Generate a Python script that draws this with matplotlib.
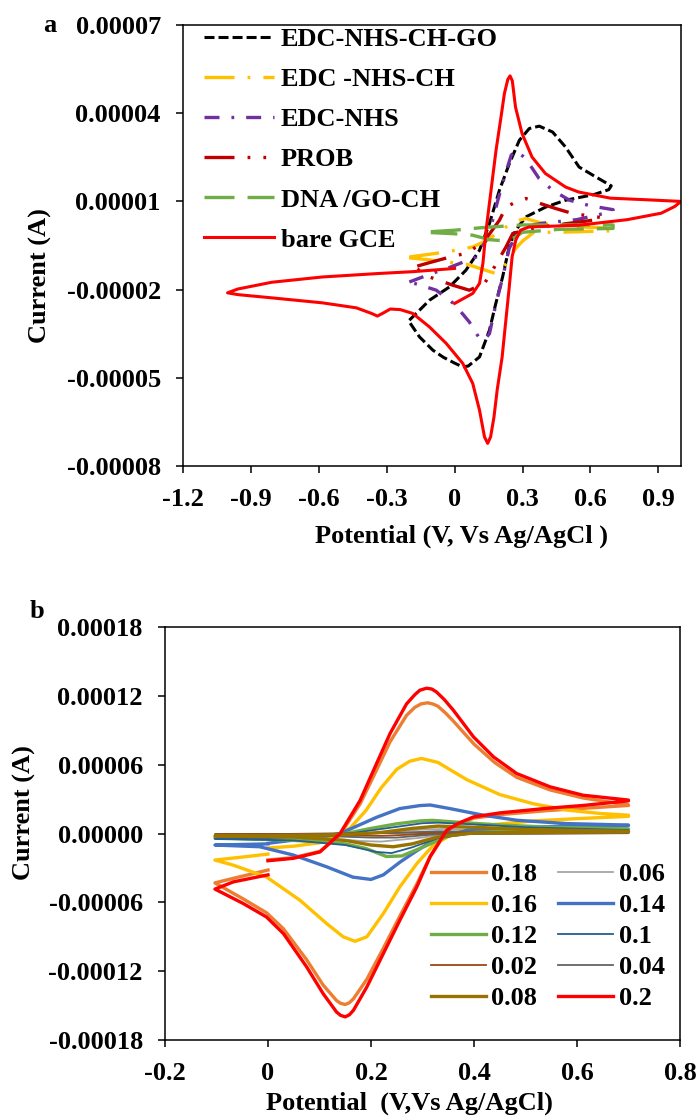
import matplotlib
matplotlib.use('Agg')
import matplotlib.pyplot as plt
from matplotlib.ticker import FixedLocator, FuncFormatter

plt.rcParams['font.family'] = ['Liberation Serif', 'DejaVu Serif']
plt.rcParams['font.weight'] = 'bold'
plt.rcParams['lines.scale_dashes'] = False
plt.rcParams['axes.linewidth'] = 1.1

SCALE = 1e-5  # currents below are in units of 1e-5 A

# ---------------- panel a data (potential V, current x1e-5 A) ----------------
go_v = [-0.2, -0.155, -0.111, -0.023, 0.05, 0.11, 0.154, 0.198, 0.242, 0.286, 0.33, 0.374, 0.433, 0.49, 0.55, 0.62, 0.692,
        0.681, 0.614, 0.49, 0.403, 0.314, 0.27, 0.241, 0.212, 0.182, 0.154, 0.11, 0.06, 0.036, 0.0, -0.05, -0.096, -0.155, -0.2]
go_i = [-3.04, -2.7, -2.36, -1.91, -1.34, -0.66, 0.25, 1.38, 2.29, 3.08, 3.48, 3.56, 3.36, 2.85, 2.17, 1.85, 1.53,
        1.4, 1.23, 1.04, 0.81, 0.47, 0.02, -0.55, -1.57, -2.47, -3.38, -4.29, -4.6, -4.63, -4.5, -4.3, -4.06, -3.61, -3.1]

ch_v = [-0.2, -0.037, 0.08, 0.15, 0.19, 0.227, 0.286, 0.314, 0.388, 0.55, 0.7,
        0.7, 0.45, 0.35, 0.3, 0.27, 0.241, 0.212, 0.18, 0.14, 0.06, -0.037, -0.12, -0.2]
ch_i = [-0.89, -0.72, -0.55, -0.3, -0.05, 0.13, 0.36, 0.42, 0.25, 0.13, 0.1,
        0.0, -0.05, -0.05, -0.35, -0.6, -0.95, -1.3, -1.45, -1.35, -1.15, -1.06, -0.98, -0.92]

nhs_v = [-0.2, -0.1, -0.023, 0.095, 0.139, 0.168, 0.191, 0.22, 0.25, 0.27, 0.314, 0.373, 0.433, 0.508, 0.6, 0.7,
         0.7, 0.54, 0.39, 0.314, 0.27, 0.241, 0.212, 0.182, 0.154, 0.13, 0.11, 0.065, 0.0, -0.081, -0.15, -0.2]
nhs_i = [-1.74, -1.45, -1.25, -0.89, -0.32, 0.36, 1.04, 1.83, 2.57, 2.74, 2.46, 1.78, 1.38, 1.04, 0.85, 0.72,
         0.66, 0.38, 0.26, 0.15, -0.19, -0.6, -1.6, -2.5, -3.5, -3.72, -3.66, -3.1, -2.5, -2.02, -1.85, -1.74]

prob_v = [-0.165, -0.096, 0.0, 0.05, 0.095, 0.15, 0.198, 0.227, 0.286, 0.314, 0.37, 0.45, 0.521, 0.6, 0.65,
          0.65, 0.5, 0.4, 0.3, 0.257, 0.227, 0.176, 0.132, 0.065, -0.008, -0.111, -0.165]
prob_i = [-1.2, -1.05, -0.85, -0.77, -0.55, -0.15, 0.36, 0.81, 1.04, 1.1, 0.95, 0.75, 0.59, 0.5, 0.45,
          0.4, 0.25, 0.15, 0.0, -0.09, -0.55, -1.23, -1.79, -2.02, -1.85, -1.57, -1.3]

dna_v = [-0.105, 0.0, 0.11, 0.2, 0.3, 0.45, 0.7,
         0.7, 0.46, 0.3, 0.257, 0.2, 0.154, 0.08, 0.0, -0.105]
dna_i = [-0.03, 0.02, 0.1, 0.15, 0.2, 0.2, 0.2,
         0.08, 0.05, -0.05, -0.26, -0.33, -0.3, -0.15, -0.1, -0.06]

gce_v = [0, 0.08, 0.11, 0.125, 0.139, 0.161, 0.183, 0.205, 0.22, 0.235, 0.245, 0.255, 0.269, 0.298, 0.342, 0.401, 0.49,
         0.548, 0.689, 0.838, 1.0,
         0.973, 0.913, 0.763, 0.548, 0.328, 0.291, 0.27, 0.254, 0.24, 0.225, 0.21, 0.188, 0.174, 0.159, 0.146, 0.132,
         0.11, 0.08, 0.036, -0.037, -0.111, -0.185, -0.24, -0.284, -0.314, -0.341, -0.367, -0.434, -0.584, -0.808,
         -0.958, -1.003,
         -0.958, -0.808, -0.584, -0.332, -0.185, 0.0]
gce_i = [-2.47, -2.13, -1.79, -1.11, 0.02, 1.38, 2.74, 3.87, 4.67, 5.15, 5.27, 5.1, 4.21, 3.31, 2.51, 1.95, 1.49,
         1.32, 1.11, 1.06, 1.0,
         0.83, 0.6, 0.38, 0.19, 0.13, 0.02, -0.32, -0.89, -2.02, -3.15, -4.29, -5.42, -6.33, -7.01, -7.23, -7.01,
         -6.1, -5.19, -4.51, -3.83, -3.27, -2.81, -2.68, -2.66, -2.79, -2.9, -2.81, -2.62, -2.45, -2.28,
         -2.17, -2.11,
         -1.98, -1.75, -1.57, -1.45, -1.39, -1.28]

labels_a = ['EDC-NHS-CH-GO', 'EDC -NHS-CH', 'EDC-NHS', 'PROB', 'DNA /GO-CH', 'bare GCE']
xticks_a = [-1.2, -0.9, -0.6, -0.3, 0.0, 0.3, 0.6, 0.9]
yticks_a = [-0.00008, -0.00005, -0.00002, 0.00001, 0.00004, 0.00007]

# ---------------- panel b data (scan rate series) ----------------
r20_v = [0, 0.049, 0.101, 0.14, 0.179, 0.205, 0.237, 0.269, 0.285, 0.295, 0.308, 0.318, 0.327, 0.342, 0.36, 0.399, 0.438,
         0.483, 0.548, 0.612, 0.7,
         0.7, 0.612, 0.541, 0.45, 0.399, 0.37, 0.347, 0.315, 0.289, 0.256, 0.224, 0.192, 0.166, 0.158, 0.15, 0.141,
         0.133, 0.107, 0.075, 0.03, -0.003, -0.048, -0.103, -0.067, 0.0]
r20_i = [-2.37, -2.16, -1.6, 0.0, 2.9, 5.52, 8.72, 11.3, 12.1, 12.5, 12.67, 12.6, 12.35, 11.7, 10.75, 8.43, 6.68,
         5.23, 4.07, 3.34, 2.92,
         2.85, 2.45, 2.2, 1.8, 1.45, 0.9, 0.29, -2.0, -4.65, -7.56, -10.46, -13.37, -15.4, -15.8, -15.98, -15.85,
         -15.55, -13.95, -11.62, -8.72, -7.27, -6.1, -4.84, -4.21, -3.6]

r18_v = [0, 0.049, 0.101, 0.14, 0.179, 0.205, 0.237, 0.269, 0.285, 0.297, 0.31, 0.32, 0.33, 0.345, 0.36, 0.4, 0.44,
         0.483, 0.548, 0.612, 0.7,
         0.7, 0.612, 0.541, 0.45, 0.4, 0.37, 0.347, 0.315, 0.289, 0.256, 0.224, 0.192, 0.166, 0.158, 0.15, 0.141,
         0.133, 0.107, 0.075, 0.03, -0.003, -0.048, -0.103, -0.067, 0.0]
r18_i = [-2.3, -2.1, -1.55, -0.1, 2.6, 5.0, 8.0, 10.3, 11.0, 11.3, 11.4, 11.3, 11.1, 10.5, 9.8, 7.8, 6.2,
         4.9, 3.8, 3.1, 2.5,
         2.45, 2.2, 2.0, 1.65, 1.35, 0.85, 0.2, -2.0, -4.4, -7.2, -10.0, -12.7, -14.4, -14.75, -14.9, -14.8,
         -14.55, -13.2, -11.0, -8.3, -6.9, -5.7, -4.3, -3.9, -3.18]

r16_v = [0, 0.05, 0.1, 0.13, 0.16, 0.19, 0.22, 0.25, 0.275, 0.298, 0.33, 0.386, 0.45, 0.515, 0.58, 0.645, 0.7,
         0.7, 0.6, 0.515, 0.418, 0.36, 0.321, 0.289, 0.256, 0.224, 0.192, 0.169, 0.146, 0.114, 0.062, -0.003,
         -0.067, -0.103, -0.05, 0.0]
r16_i = [-1.26, -1.1, -0.8, -0.3, 0.5, 2.0, 4.0, 5.6, 6.3, 6.55, 6.2, 4.7, 3.4, 2.6, 2.05, 1.75, 1.6,
         1.5, 1.3, 1.1, 0.7, 0.0, -1.02, -2.62, -4.65, -6.97, -9.0, -9.39, -9.0, -7.85, -5.81, -3.78,
         -2.76, -2.31, -2.05, -1.79]

r14_v = [0, 0.062, 0.1, 0.14, 0.17, 0.211, 0.256, 0.295, 0.315, 0.353, 0.418, 0.483, 0.58, 0.7,
         0.7, 0.515, 0.386, 0.321, 0.289, 0.256, 0.224, 0.2, 0.165, 0.114, 0.049, -0.016, -0.103, -0.05, 0.0]
r14_i = [-0.85, -0.5, -0.3, 0.0, 0.6, 1.42, 2.18, 2.44, 2.49, 2.18, 1.6, 1.16, 0.87, 0.74,
         0.7, 0.58, 0.29, -0.6, -1.5, -2.5, -3.6, -4.0, -3.8, -2.9, -1.87, -1.15, -1.0, -0.95, -0.9]

r12_v = [0, 0.1, 0.15, 0.2, 0.25, 0.295, 0.32, 0.38, 0.45, 0.55, 0.7,
         0.7, 0.5, 0.4, 0.35, 0.3, 0.26, 0.23, 0.19, 0.15, 0.1, 0.0, -0.103, 0.0]
r12_i = [-0.45, -0.25, 0.0, 0.45, 0.85, 1.1, 1.15, 0.95, 0.75, 0.55, 0.4,
         0.36, 0.25, 0.1, -0.2, -1.2, -1.95, -2.0, -1.3, -0.9, -0.7, -0.5, -0.41, -0.45]

r10_v = [0, 0.15, 0.22, 0.3, 0.33, 0.4, 0.5, 0.7,
         0.7, 0.4, 0.33, 0.28, 0.24, 0.21, 0.15, 0.05, -0.103, 0.0]
r10_i = [-0.4, -0.05, 0.4, 0.9, 0.95, 0.8, 0.55, 0.3,
         0.25, 0.05, -0.4, -1.2, -1.7, -1.6, -1.0, -0.6, -0.45, -0.4]

r08_v = [0, 0.15, 0.22, 0.28, 0.33, 0.4, 0.5, 0.7,
         0.7, 0.4, 0.33, 0.28, 0.243, 0.2, 0.15, 0.05, -0.103, 0.0]
r08_i = [-0.2, -0.1, 0.1, 0.45, 0.65, 0.55, 0.35, 0.2,
         0.15, 0.05, -0.3, -0.9, -1.15, -1.0, -0.6, -0.3, -0.22, -0.2]

r06_v = [0, 0.2, 0.3, 0.34, 0.45, 0.7,
         0.7, 0.35, 0.3, 0.22, 0.18, 0.1, -0.103, 0.0]
r06_i = [-0.15, 0.05, 0.35, 0.4, 0.3, 0.15,
         0.1, 0.0, -0.35, -0.7, -0.65, -0.35, -0.15, -0.15]

r04_v = [0, 0.25, 0.33, 0.5, 0.7,
         0.7, 0.33, 0.25, 0.2, 0.1, -0.103, 0.0]
r04_i = [-0.1, 0.05, 0.2, 0.12, 0.08,
         0.05, -0.05, -0.35, -0.35, -0.2, -0.1, -0.1]

r02_v = [0, 0.3, 0.7, 0.7, 0.3, 0.22, 0.1, -0.103, 0.0]
r02_i = [-0.05, 0.1, 0.05, 0.03, -0.05, -0.2, -0.12, -0.05, -0.05]

xticks_b = [-0.2, 0.0, 0.2, 0.4, 0.6, 0.8]
yticks_b = [-0.00018, -0.00012, -0.00006, 0.0, 0.00006, 0.00012, 0.00018]

# ---------------- figure ----------------
FS = 19
fig = plt.figure(figsize=(7, 11.17), dpi=100)
axa = fig.add_axes([0.2614, 0.5828, 0.7114, 0.3948])
axb = fig.add_axes([0.2357, 0.0689, 0.7357, 0.3697])


def sc(vals):
    return [v * SCALE for v in vals]


series_a = [
    (go_v, go_i, 'black', (0, (7.2, 2.9)), 2.2),
    (ch_v, ch_i, '#FFC000', (0, (21.6, 9.4, 2.0, 9.4)), 2.4),
    (nhs_v, nhs_i, '#7030A0', (0, (10.8, 8.6, 2.0, 8.6)), 2.4),
    (prob_v, prob_i, '#C00000', (0, (21.6, 9.4, 2.0, 9.4, 2.0, 9.4)), 2.4),
    (dna_v, dna_i, '#70AD47', (0, (21.6, 9.4)), 2.4),
    (gce_v, gce_i, '#FF0000', '-', 2.2),
]
handles_a = []
for (v, i, c, ls, lw), lab in zip(series_a, labels_a):
    h, = axa.plot(v, sc(i), color=c, linestyle=ls, lw=lw, label=lab)
    handles_a.append(h)

axa.set_xlim(-1.2, 1.0)
axa.set_ylim(-0.00008, 0.00007)
axa.xaxis.set_major_locator(FixedLocator(xticks_a))
axa.yaxis.set_major_locator(FixedLocator(yticks_a))


def fmt_x(v, pos):
    return '0' if abs(v) < 1e-9 else f'{v:.1f}'


def fmt_y(v, pos):
    s = f'{v:.5f}'
    return '0.00000' if s == '-0.00000' else s


for ax in (axa, axb):
    ax.xaxis.set_major_formatter(FuncFormatter(fmt_x))
    ax.yaxis.set_major_formatter(FuncFormatter(fmt_y))
    ax.tick_params(direction='out', length=5, width=1.1, labelsize=FS, pad=11)
    for t in ax.get_xticklabels() + ax.get_yticklabels():
        t.set_fontweight('bold')

axa.legend(handles=handles_a, loc='upper left', bbox_to_anchor=(0.042, 0.994), frameon=False,
           borderpad=0, borderaxespad=0, handlelength=2.65, handletextpad=0.27, labelspacing=0.63,
           prop={'size': FS, 'weight': 'bold'})

axa.set_xlabel('Potential (V, Vs Ag/AgCl )', fontsize=FS, fontweight='bold')
axa.xaxis.set_label_coords(0.56, -0.159)
axa.xaxis.label.set_verticalalignment('center')
axa.set_ylabel('Current (A)', fontsize=FS, fontweight='bold')
axa.yaxis.set_label_coords(-0.287, 0.433)
axa.yaxis.label.set_verticalalignment('center')

# panel b
series_b = {
    '0.18': (r18_v, r18_i, '#ED7D31', 2.4),
    '0.06': (r06_v, r06_i, '#A5A5A5', 1.3),
    '0.16': (r16_v, r16_i, '#FFC000', 2.4),
    '0.14': (r14_v, r14_i, '#4472C4', 2.4),
    '0.12': (r12_v, r12_i, '#70AD47', 2.4),
    '0.1': (r10_v, r10_i, '#255E91', 1.3),
    '0.02': (r02_v, r02_i, '#9E480E', 1.3),
    '0.04': (r04_v, r04_i, '#636363', 1.3),
    '0.08': (r08_v, r08_i, '#997300', 2.4),
    '0.2': (r20_v, r20_i, '#FF0000', 2.4),
}
hb = {}
for lab, (v, i, c, lw) in series_b.items():
    h, = axb.plot(v, sc(i), color=c, lw=lw, label=lab)
    hb[lab] = h

order_b = ['0.18', '0.16', '0.12', '0.02', '0.08', '0.06', '0.14', '0.1', '0.04', '0.2']
axb.legend(handles=[hb[k] for k in order_b], loc='upper left', bbox_to_anchor=(0.5165, 0.43), ncol=2,
           frameon=False, borderpad=0, borderaxespad=0, handlelength=2.08, handletextpad=0.2,
           columnspacing=0.8, labelspacing=0.29, prop={'size': FS, 'weight': 'bold'})

axb.set_xlim(-0.2, 0.8)
axb.set_ylim(-0.00018, 0.00018)
axb.xaxis.set_major_locator(FixedLocator(xticks_b))
axb.yaxis.set_major_locator(FixedLocator(yticks_b))
axb.set_xlabel('Potential  (V,Vs Ag/AgCl)', fontsize=FS, fontweight='bold')
axb.xaxis.set_label_coords(0.474, -0.153)
axb.xaxis.label.set_verticalalignment('center')
axb.set_ylabel('Current (A)', fontsize=FS, fontweight='bold')
axb.yaxis.set_label_coords(-0.272, 0.55)
axb.yaxis.label.set_verticalalignment('center')

fig.text(50 / 700, 1 - 26 / 1117, 'a', fontsize=FS, fontweight='bold', ha='center', va='center')
fig.text(37 / 700, 1 - 612 / 1117, 'b', fontsize=FS, fontweight='bold', ha='center', va='center')

fig.savefig('out.png', dpi=100)
